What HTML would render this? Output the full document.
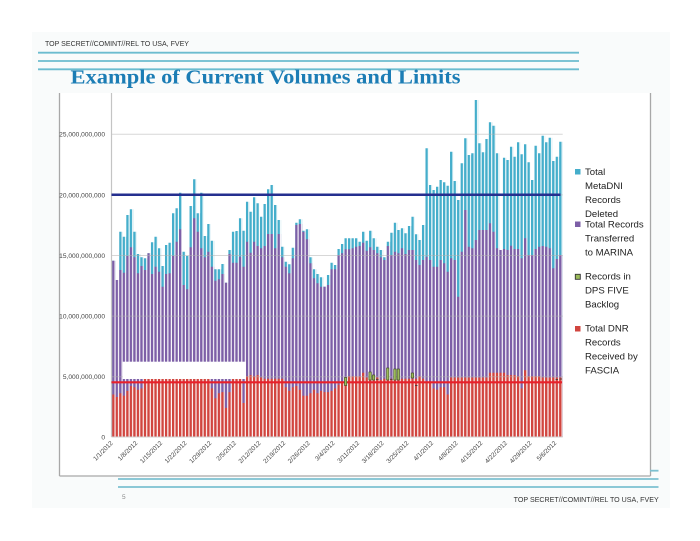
<!DOCTYPE html>
<html><head><meta charset="utf-8"><style>
html,body{margin:0;padding:0;background:#fff;width:700px;height:541px;overflow:hidden}
svg{display:block}
text{font-family:"Liberation Sans",Arial,sans-serif}
</style></head><body>
<svg width="700" height="541" viewBox="0 0 700 541" xmlns="http://www.w3.org/2000/svg">
<defs>
<pattern id="gap" patternUnits="userSpaceOnUse" x="112.1" y="0" width="3.52" height="10"><rect x="2.4" y="0" width="1.12" height="10" fill="#fff"/></pattern>
</defs>
<rect x="0" y="0" width="700" height="541" fill="#fff"/>
<rect x="32" y="32" width="638" height="476" fill="#f9fbfb"/>
<!-- header -->
<text x="45" y="46" font-size="7" fill="#333" textLength="144" lengthAdjust="spacingAndGlyphs">TOP SECRET//COMINT//REL TO USA, FVEY</text>
<g stroke="#6cbccf" stroke-width="1.8">
<line x1="38" y1="52.7" x2="579" y2="52.7"/>
<line x1="38" y1="61" x2="579" y2="61"/>
<line x1="38" y1="69.3" x2="579" y2="69.3"/>
</g>
<text x="70.5" y="83.5" font-family="Liberation Serif,serif" font-weight="bold" font-size="19.5" fill="#1c7db5" textLength="390" lengthAdjust="spacingAndGlyphs" style="font-family:'Liberation Serif',serif">Example of  Current Volumes and Limits</text>
<!-- chart frame -->
<rect x="59.5" y="93" width="591" height="383" fill="#fff"/>
<g stroke="#a8a8a8" stroke-width="1.3" fill="none">
<line x1="59.5" y1="93" x2="59.5" y2="476"/>
<line x1="650.5" y1="93" x2="650.5" y2="476"/>
<line x1="59.5" y1="476" x2="650.5" y2="476"/>
</g>
<!-- bars -->
<path fill="#45aecb" d="M112.1 437V260.7h3.52V280h3.52V231.7h3.52V236.7h3.52V215h3.52V209.3h3.52V231.7h3.52V254h3.52V257.3h3.52V258.3h3.52V253.3h3.52V242.3h3.52V236.7h3.52V248.3h3.52V266h3.52V245h3.52V242.7h3.52V213.3h3.52V208.3h3.52V192.7h3.52V251.7h3.52V256h3.52V206h3.52V179.3h3.52V213.3h3.52V192.7h3.52V236h3.52V224h3.52V240.7h3.52V269.3h3.52V269.3h3.52V264h3.52V282.7h3.52V250h3.52V231.7h3.52V231h3.52V218.3h3.52V230.7h3.52V201.7h3.52V211.7h3.52V197.3h3.52V203.3h3.52V216.7h3.52V204h3.52V189.3h3.52V185h3.52V205h3.52V220h3.52V246.7h3.52V261.7h3.52V264.3h3.52V247.7h3.52V222.7h3.52V219.3h3.52V230.7h3.52V229.3h3.52V257.3h3.52V269.3h3.52V274h3.52V277.3h3.52V286.7h3.52V275h3.52V262.7h3.52V265h3.52V249h3.52V244h3.52V238.3h3.52V238.3h3.52V238.3h3.52V238.3h3.52V241.7h3.52V231.7h3.52V240.7h3.52V230.7h3.52V238.3h3.52V246.7h3.52V250h3.52V257.3h3.52V241.7h3.52V232.7h3.52V222.7h3.52V230h3.52V228.3h3.52V233.3h3.52V226h3.52V216.7h3.52V234.3h3.52V240h3.52V225h3.52V148.3h3.52V185h3.52V190h3.52V186.7h3.52V180h3.52V182.3h3.52V185.7h3.52V151.7h3.52V181h3.52V200h3.52V163.3h3.52V138.3h3.52V155h3.52V153.3h3.52V100h3.52V143.3h3.52V152.3h3.52V139h3.52V122.3h3.52V125.7h3.52V153.3h3.52V250h3.52V157.7h3.52V160h3.52V146.7h3.52V156.7h3.52V142.3h3.52V154.3h3.52V144.3h3.52V162.3h3.52V180h3.52V145.7h3.52V153.3h3.52V135.7h3.52V142.3h3.52V137.7h3.52V161h3.52V156.7h3.52V141.7h3.52V437Z"/>
<path fill="#7d5fa7" d="M112.1 437V260.7h3.52V280h3.52V270h3.52V272.7h3.52V256h3.52V247.3h3.52V257.3h3.52V273.3h3.52V266h3.52V270h3.52V253.3h3.52V274h3.52V266.7h3.52V271.7h3.52V286.7h3.52V274h3.52V273.3h3.52V256h3.52V241.7h3.52V229.3h3.52V285h3.52V289.3h3.52V247.3h3.52V218.3h3.52V231.7h3.52V248.3h3.52V257.3h3.52V251.7h3.52V266.7h3.52V280.7h3.52V279.3h3.52V274h3.52V282.7h3.52V254h3.52V262.7h3.52V262.7h3.52V256.7h3.52V266.7h3.52V241.7h3.52V252.7h3.52V241.7h3.52V246h3.52V248.3h3.52V246h3.52V234h3.52V234h3.52V248.3h3.52V234h3.52V257.3h3.52V266.7h3.52V273.3h3.52V258.3h3.52V225h3.52V224h3.52V231.7h3.52V239.3h3.52V263.3h3.52V278.3h3.52V283.3h3.52V286.7h3.52V286.7h3.52V285h3.52V269.3h3.52V269.3h3.52V255h3.52V253.3h3.52V249.3h3.52V249.3h3.52V248.3h3.52V246.7h3.52V246h3.52V242.7h3.52V250.7h3.52V247.3h3.52V250h3.52V253.3h3.52V257.3h3.52V260h3.52V246h3.52V255h3.52V251.7h3.52V253.3h3.52V248.3h3.52V254h3.52V250h3.52V250h3.52V260h3.52V265h3.52V260h3.52V256.7h3.52V260h3.52V266.7h3.52V266.7h3.52V260h3.52V263.3h3.52V271.7h3.52V258.3h3.52V260h3.52V296.7h3.52V251.7h3.52V210h3.52V246.7h3.52V248.3h3.52V240h3.52V230h3.52V230h3.52V230h3.52V223.3h3.52V231.7h3.52V248.3h3.52V250h3.52V249h3.52V250h3.52V245.7h3.52V249h3.52V249h3.52V258.3h3.52V238.3h3.52V255h3.52V255h3.52V249h3.52V246.7h3.52V246h3.52V246.7h3.52V248.3h3.52V268.3h3.52V259h3.52V255h3.52V437Z"/>
<path fill="#d1453f" d="M112.1 437V394.5h3.52V397h3.52V393.3h3.52V395.7h3.52V390.9h3.52V386h3.52V387.2h3.52V389.7h3.52V388.4h3.52V378.7h66.88V388.4h3.52V398.2h3.52V393.3h3.52V392.1h3.52V407.9h3.52V392.1h3.52V378.7h10.56V403h3.52V376.3h3.52V375.1h3.52V376.3h3.52V375.1h3.52V377.5h3.52V378.7h21.12V387.2h3.52V390.9h3.52V387.2h3.52V386h3.52V389.7h3.52V395.7h3.52V395.7h3.52V393.3h3.52V389.7h3.52V393.3h3.52V390.9h3.52V392.1h3.52V392.1h3.52V390.9h3.52V388.4h3.52V384.8h3.52V382.4h3.52V379.9h3.52V376.3h14.08V372.7h3.52V377.5h14.08V379.9h3.52V378.7h35.2V376.3h3.52V378.7h3.52V381.2h3.52V381.2h3.52V388.4h3.52V389.7h3.52V387.2h3.52V387.2h3.52V394.5h3.52V377.5h38.72V372.7h17.6V375.1h10.56V376.3h3.52V388.4h3.52V370.2h3.52V376.3h14.08V377.5h21.12V437Z"/>
<rect x="112.1" y="95" width="450.56" height="342" fill="url(#gap)"/>
<!-- gridlines -->
<g stroke="#b0b0b0" stroke-width="1" opacity="0.5">
<line x1="111.5" y1="134.3" x2="562.7" y2="134.3"/>
<line x1="111.5" y1="194.9" x2="562.7" y2="194.9"/>
<line x1="111.5" y1="255.5" x2="562.7" y2="255.5"/>
<line x1="111.5" y1="316.1" x2="562.7" y2="316.1"/>
<line x1="111.5" y1="376.7" x2="562.7" y2="376.7"/>
</g>
<line x1="111.5" y1="93" x2="111.5" y2="437" stroke="#c4c4c4" stroke-width="1.2"/>
<line x1="111.5" y1="437" x2="562.7" y2="437" stroke="#d0d0d0" stroke-width="1"/>
<!-- white box -->
<rect x="122.7" y="361.7" width="123.3" height="17.3" fill="#fff"/>
<!-- limit lines -->
<line x1="111.5" y1="194.8" x2="560.5" y2="194.8" stroke="#252f8f" stroke-width="2.5"/>
<line x1="111.5" y1="382.3" x2="562" y2="382.3" stroke="#e8202a" stroke-width="2.2"/>
<!-- backlog markers -->
<g fill="#9bbb59" stroke="#3a4420" stroke-width="0.6">
<rect x="344.4" y="377.5" width="2.4" height="8"/>
<rect x="368.9" y="372" width="2.4" height="8"/>
<rect x="372.4" y="375" width="2.4" height="5"/>
<rect x="386.5" y="368" width="2.4" height="12"/>
<rect x="393.7" y="369" width="2.4" height="11"/>
<rect x="397.1" y="369" width="2.4" height="11"/>
<rect x="411.2" y="373" width="2.4" height="5"/>
</g>
<g stroke="#333" stroke-width="0.8">
<line x1="376" y1="379.3" x2="378.6" y2="379.3"/>
<line x1="390" y1="379.3" x2="392.6" y2="379.3"/>
<line x1="415" y1="385.5" x2="417.6" y2="385.5"/>
<line x1="555.5" y1="379.5" x2="558" y2="379.5"/>
<line x1="559.5" y1="379" x2="562" y2="379"/>
</g>
<!-- y labels -->
<g font-size="6.6" fill="#444" text-anchor="end">
<text x="105" y="136.7">25,000,000,000</text>
<text x="105" y="197.4">20,000,000,000</text>
<text x="105" y="258">15,000,000,000</text>
<text x="105" y="318.6">10,000,000,000</text>
<text x="105" y="379.2">5,000,000,000</text>
<text x="105" y="439.4">0</text>
</g>
<!-- x labels -->
<g font-size="6.4" fill="#444" text-anchor="end">
<text x="113.3" y="443.5" transform="rotate(-45 113.3 443.5)">1/1/2012</text>
<text x="137.9" y="443.5" transform="rotate(-45 137.9 443.5)">1/8/2012</text>
<text x="162.6" y="443.5" transform="rotate(-45 162.6 443.5)">1/15/2012</text>
<text x="187.2" y="443.5" transform="rotate(-45 187.2 443.5)">1/22/2012</text>
<text x="211.9" y="443.5" transform="rotate(-45 211.9 443.5)">1/29/2012</text>
<text x="236.5" y="443.5" transform="rotate(-45 236.5 443.5)">2/5/2012</text>
<text x="261.1" y="443.5" transform="rotate(-45 261.1 443.5)">2/12/2012</text>
<text x="285.8" y="443.5" transform="rotate(-45 285.8 443.5)">2/19/2012</text>
<text x="310.4" y="443.5" transform="rotate(-45 310.4 443.5)">2/26/2012</text>
<text x="335.1" y="443.5" transform="rotate(-45 335.1 443.5)">3/4/2012</text>
<text x="359.7" y="443.5" transform="rotate(-45 359.7 443.5)">3/11/2012</text>
<text x="384.3" y="443.5" transform="rotate(-45 384.3 443.5)">3/18/2012</text>
<text x="409" y="443.5" transform="rotate(-45 409 443.5)">3/25/2012</text>
<text x="433.6" y="443.5" transform="rotate(-45 433.6 443.5)">4/1/2012</text>
<text x="458.3" y="443.5" transform="rotate(-45 458.3 443.5)">4/8/2012</text>
<text x="482.9" y="443.5" transform="rotate(-45 482.9 443.5)">4/15/2012</text>
<text x="507.5" y="443.5" transform="rotate(-45 507.5 443.5)">4/22/2012</text>
<text x="532.2" y="443.5" transform="rotate(-45 532.2 443.5)">4/29/2012</text>
<text x="556.8" y="443.5" transform="rotate(-45 556.8 443.5)">5/6/2012</text>
</g>
<!-- legend -->
<rect x="575" y="169" width="5.5" height="5.5" fill="#45aecb"/>
<rect x="575" y="221.5" width="5.5" height="5.5" fill="#7d5fa7"/>
<rect x="575.3" y="274.3" width="5" height="5" fill="#9bbb59" stroke="#333" stroke-width="0.9"/>
<rect x="575" y="326" width="5.5" height="5.5" fill="#d1453f"/>
<g font-size="9.6" fill="#222">
<text x="585" y="175.2">Total</text>
<text x="585" y="189.2">MetaDNI</text>
<text x="585" y="202.8">Records</text>
<text x="585" y="216.8">Deleted</text>
<text x="585" y="227.5">Total Records</text>
<text x="585" y="241.5">Transferred</text>
<text x="585" y="255.5">to MARINA</text>
<text x="585" y="279.5">Records in</text>
<text x="585" y="293.5">DPS FIVE</text>
<text x="585" y="307.5">Backlog</text>
<text x="585" y="331.5">Total DNR</text>
<text x="585" y="345.5">Records</text>
<text x="585" y="359.5">Received by</text>
<text x="585" y="373.5">FASCIA</text>
</g>
<!-- footer -->
<g stroke="#7cc0d0" stroke-width="1.8">
<line x1="650" y1="470.7" x2="658.5" y2="470.7"/>
<line x1="118" y1="479" x2="658.5" y2="479"/>
<line x1="118" y1="487" x2="658.5" y2="487"/>
</g>
<text x="122" y="499" font-size="6.5" fill="#888">5</text>
<text x="513.7" y="502" font-size="7" fill="#333" textLength="145" lengthAdjust="spacingAndGlyphs">TOP SECRET//COMINT//REL TO USA, FVEY</text>
</svg>
</body></html>
